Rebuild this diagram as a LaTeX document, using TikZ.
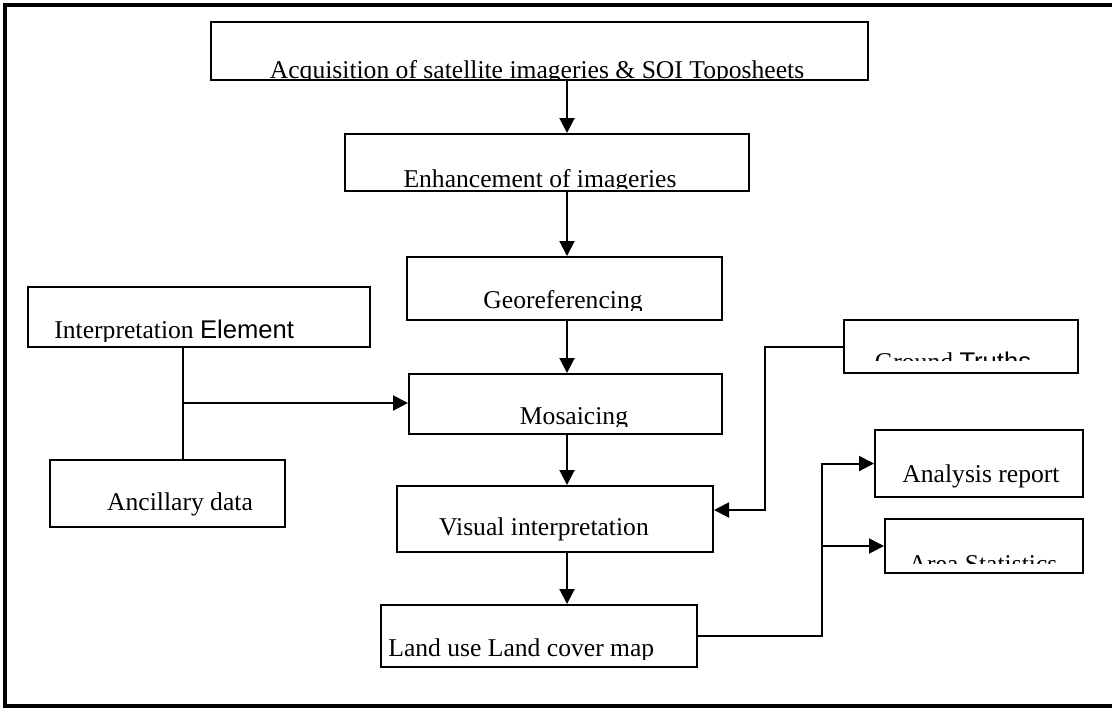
\documentclass[tikz,border=0pt]{standalone}
\usepackage{fontspec}
\setmainfont{Liberation Serif}
\newfontfamily\arialfont{Liberation Sans}
\usetikzlibrary{arrows.meta,fit}

\begin{document}
\begin{tikzpicture}[
    x=0.5pt, y=-0.5pt,
    box/.style={draw, line width=1pt, inner sep=0pt},
    lbl/.style={anchor=base, inner sep=0pt, font=\fontsize{12.8}{15}\selectfont},
    edge/.style={-{Triangle[length=7.5pt, width=7.5pt]}, line width=1pt},
    link/.style={line width=1pt}
]
    \useasboundingbox (0,0) rectangle (1112,709);
    \draw[line width=2pt] (1112,5) -- (5,5) -- (5,706) -- (1112,706);

    % boxes
    \node[box, fit={(211,22) (868,80)}] (acq) {};
    \node[box, fit={(345,134) (749,191)}] (enh) {};
    \node[box, fit={(407,257) (722,320)}] (geo) {};
    \node[box, fit={(28,287) (370,347)}] (intel) {};
    \node[box, fit={(409,374) (722,434)}] (mos) {};
    \node[box, fit={(844,320) (1078,373)}] (gt) {};
    \node[box, fit={(875,430) (1083,497)}] (ana) {};
    \node[box, fit={(885,519) (1083,573)}] (area) {};
    \node[box, fit={(50,460) (285,527)}] (anc) {};
    \node[box, fit={(397,486) (713,552)}] (vis) {};
    \node[box, fit={(381,605) (697,667)}] (lulc) {};

    % texts, cut off at the bottom as in the scan
    \begin{scope}
        \clip (211,22) rectangle (868,78);
        \node[lbl] (acqtxt) at (537,78) {Acquisition of satellite imageries \& SOI Toposheets};
    \end{scope}
    \begin{scope}
        \clip (345,134) rectangle (749,188);
        \node[lbl] (enhtxt) at (540,187) {Enhancement of imageries};
    \end{scope}
    \begin{scope}
        \clip (407,257) rectangle (722,310);
        \node[lbl] (geotxt) at (563,308) {Georeferencing};
    \end{scope}
    \begin{scope}
        \clip (28,287) rectangle (370,341);
        \node[lbl, anchor=base west] (inteltxt) at (54,338) {Interpretation {\arialfont Element}};
    \end{scope}
    \begin{scope}
        \clip (409,374) rectangle (722,426);
        \node[lbl] (mostxt) at (574,424) {Mosaicing};
    \end{scope}
    \begin{scope}
        \clip (844,320) rectangle (1078,360);
        \node[lbl] (gttxt) at (953,370) {Ground {\arialfont Truths}};
    \end{scope}
    \begin{scope}
        \clip (885,519) rectangle (1083,563);
        \node[lbl] (areatxt) at (983,572) {Area Statistics};
    \end{scope}
    \begin{scope}
        \clip (381,605) rectangle (697,659);
        \node[lbl, anchor=base west] (lulctxt) at (388,656) {Land use Land cover map};
    \end{scope}
    \node[lbl] (anatxt) at (981,482) {Analysis report};
    \node[lbl] (anctxt) at (180,510) {Ancillary data};
    \node[lbl] (vistxt) at (544,535) {Visual interpretation};

    % connectors
    \coordinate (spine) at (567,0);
    \coordinate (jn) at (183,403);
    \coordinate (gtbend) at (765,510);
    \coordinate (fork) at (822,0);

    \draw[edge] (acq.south -| spine) -- (enh.north -| spine);
    \draw[edge] (enh.south -| spine) -- (geo.north -| spine);
    \draw[edge] (geo.south -| spine) -- (mos.north -| spine);
    \draw[edge] (mos.south -| spine) -- (vis.north -| spine);
    \draw[edge] (vis.south -| spine) -- (lulc.north -| spine);

    \draw[link] (intel.south -| jn) -- (anc.north -| jn);
    \draw[edge] (jn) -- (jn -| mos.west);
    \draw[edge] (gt.west) -| (gtbend) -- (gtbend -| vis.east);
    \draw[edge] (lulc.east) -| (fork |- ana.west) -- (ana.west);
    \draw[edge] (fork |- area.west) -- (area.west);
\end{tikzpicture}
\end{document}
